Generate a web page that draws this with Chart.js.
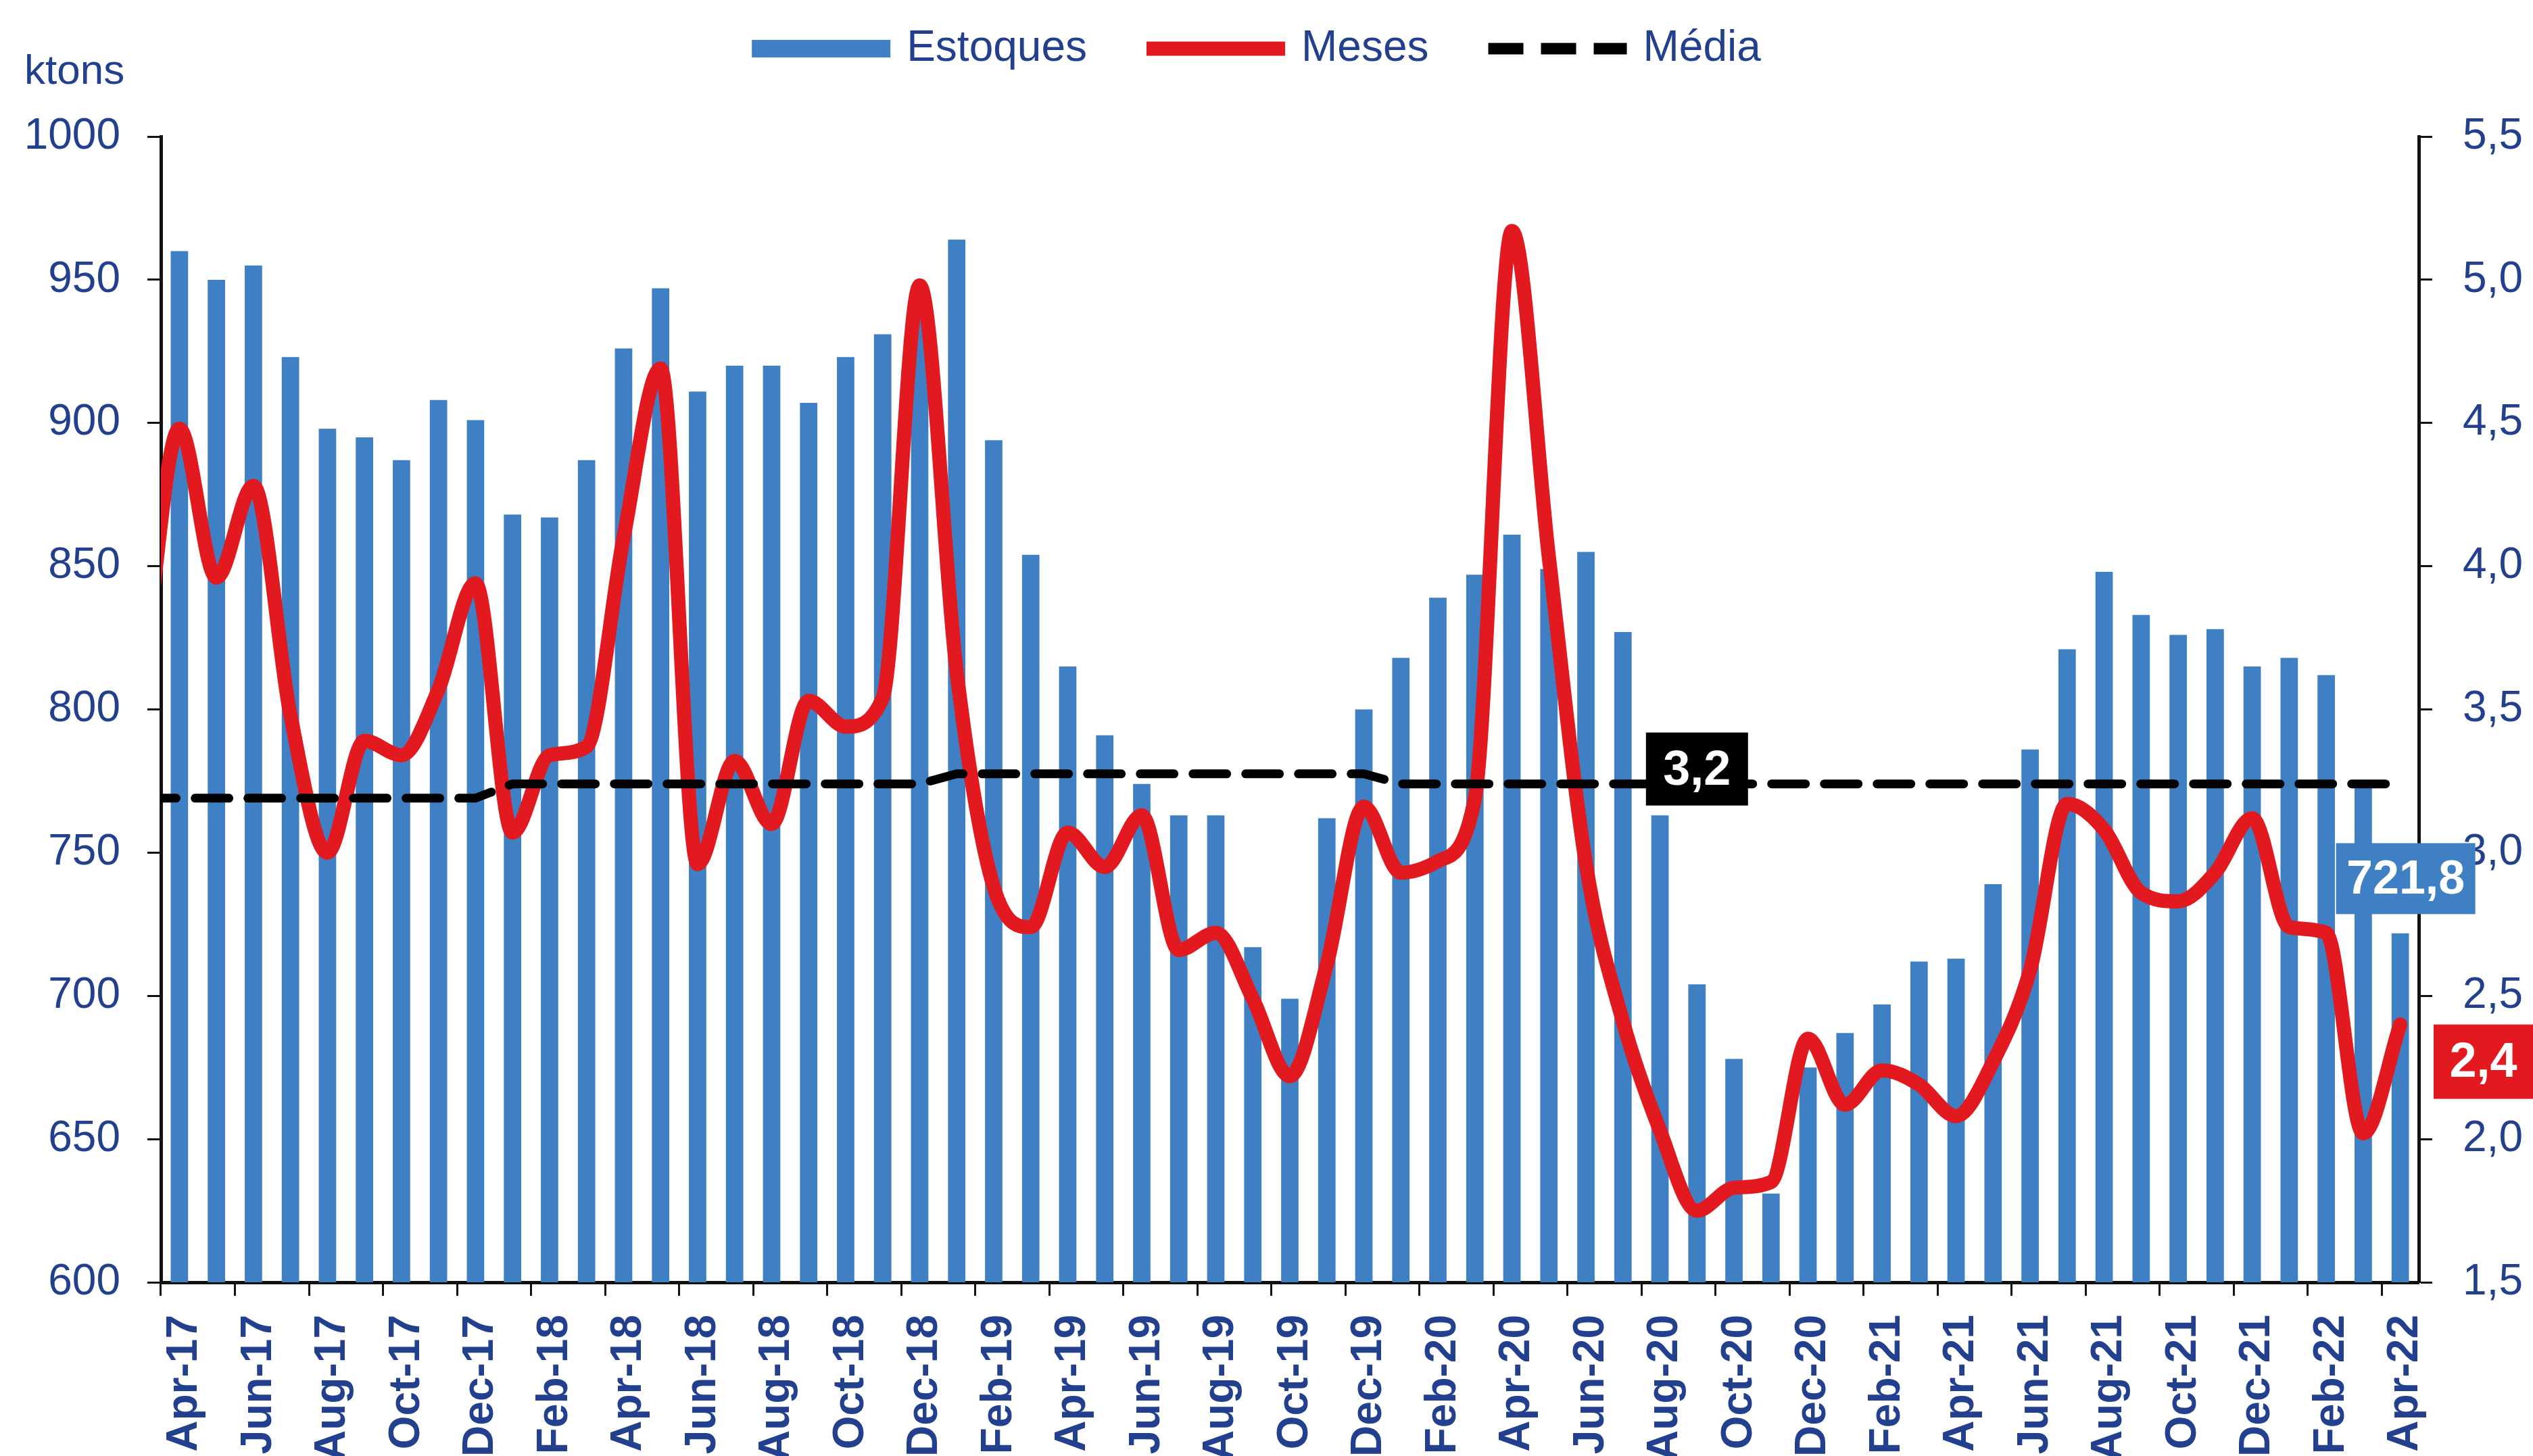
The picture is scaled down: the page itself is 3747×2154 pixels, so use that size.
<!DOCTYPE html>
<html>
<head>
<meta charset="utf-8">
<script src="https://cdn.jsdelivr.net/npm/chart.js@4/dist/chart.umd.min.js"></script>
<style>
html,body{margin:0;padding:0;background:#ffffff;}
#wrap{width:3747px;height:2154px;position:relative;}
</style>
</head>
<body>
<div id="wrap"><canvas id="c" width="3747" height="2154"></canvas></div>
<script>
// ---------------- DATA ----------------
const months = [
  'Apr-17','May-17','Jun-17','Jul-17','Aug-17','Sep-17','Oct-17','Nov-17','Dec-17',
  'Jan-18','Feb-18','Mar-18','Apr-18','May-18','Jun-18','Jul-18','Aug-18','Sep-18','Oct-18','Nov-18','Dec-18',
  'Jan-19','Feb-19','Mar-19','Apr-19','May-19','Jun-19','Jul-19','Aug-19','Sep-19','Oct-19','Nov-19','Dec-19',
  'Jan-20','Feb-20','Mar-20','Apr-20','May-20','Jun-20','Jul-20','Aug-20','Sep-20','Oct-20','Nov-20','Dec-20',
  'Jan-21','Feb-21','Mar-21','Apr-21','May-21','Jun-21','Jul-21','Aug-21','Sep-21','Oct-21','Nov-21','Dec-21',
  'Jan-22','Feb-22','Mar-22','Apr-22'
];

// Estoques (ktons), left axis
const estoques = [
  960, 950, 955, 923, 898, 895, 887, 908, 901,
  868, 867, 887, 926, 947, 911, 920, 920, 907, 923, 931, 942,
  964, 894, 854, 815, 791, 774, 763, 763, 717, 699, 762, 800,
  818, 839, 847, 861, 849, 855, 827, 763, 704, 678, 631, 675,
  687, 697, 712, 713, 739, 786, 821, 848, 833, 826, 828, 815,
  818, 812, 775, 721.8
];

// Meses de estoque, right axis
const meses = [
  4.48, 3.96, 4.28, 3.48, 3.00, 3.39, 3.34, 3.57, 3.94,
  3.07, 3.34, 3.37, 4.10, 4.69, 2.96, 3.32, 3.10, 3.53, 3.44, 3.54, 4.98,
  3.63, 2.88, 2.74, 3.07, 2.95, 3.13, 2.66, 2.72, 2.49, 2.22, 2.61, 3.16,
  2.93, 2.97, 3.19, 5.17, 4.03, 2.96, 2.41, 2.03, 1.75, 1.83, 1.85, 2.35,
  2.12, 2.24, 2.19, 2.08, 2.27, 2.59, 3.17, 3.08, 2.86, 2.83, 2.93, 3.12,
  2.74, 2.72, 2.02, 2.40
];
// value of the month before the first one (Mar-17), only its tail is visible at the left edge
const mesesMar17 = 3.6;

// Média (right axis)
const media = [
  3.19, 3.19, 3.19, 3.19, 3.19, 3.19, 3.19, 3.19, 3.19,
  3.24, 3.24, 3.24, 3.24, 3.24, 3.24, 3.24, 3.24, 3.24, 3.24, 3.24, 3.24,
  3.275, 3.275, 3.275, 3.275, 3.275, 3.275, 3.275, 3.275, 3.275, 3.275, 3.275, 3.275,
  3.24, 3.24, 3.24, 3.24, 3.24, 3.24, 3.24, 3.24, 3.24, 3.24, 3.24, 3.24,
  3.24, 3.24, 3.24, 3.24, 3.24, 3.24, 3.24, 3.24, 3.24, 3.24, 3.24, 3.24,
  3.24, 3.24, 3.24, 3.24
];
const mediaLabelIndex = 41; // where the "3,2" tag sits

const leftTicks  = [600, 650, 700, 750, 800, 850, 900, 950, 1000];
const rightTicks = [1.5, 2.0, 2.5, 3.0, 3.5, 4.0, 4.5, 5.0, 5.5];

// ---------------- STYLE ----------------
const FONT = "'Liberation Sans', Arial, Helvetica, sans-serif";
const TEXT = '#23408e';
const BLUE = '#3f80c4';
const RED = '#e2191f';
const BLACK = '#000000';

const fmt = v => v.toFixed(1).replace('.', ',');

const mesesPoints = [{x: -1, y: mesesMar17}].concat(meses.map((v, i) => ({x: i, y: v})));
const mediaPoints = [{x: -1, y: media[0]}].concat(media.map((v, i) => ({x: i, y: v})));

const decoPlugin = {
  id: 'deco',
  afterDraw(chart) {
    const ctx = chart.ctx;
    const area = chart.chartArea;
    const xl = chart.scales.xl, y = chart.scales.y, y1 = chart.scales.y1;
    ctx.save();

    // unit label
    ctx.fillStyle = TEXT;
    ctx.font = '62px ' + FONT;
    ctx.textAlign = 'left';
    ctx.textBaseline = 'alphabetic';
    ctx.fillText('ktons', 36, 124);

    // legend
    const ds = chart.data.datasets;
    ctx.font = '64px ' + FONT;
    const markW = 205, gap = 24, itemGap = 88;
    let total = 0;
    ds.forEach((d, i) => { total += markW + gap + ctx.measureText(d.label).width + (i < ds.length - 1 ? itemGap : 0); });
    let lx = chart.width / 2 - total / 2 - 15;
    const ly = 72;
    ds.forEach((d, i) => {
      if (d.type === 'line') {
        ctx.beginPath();
        ctx.strokeStyle = d.borderColor;
        ctx.lineWidth = d.borderDash ? 17 : 21;
        ctx.setLineDash(d.borderDash ? [52, 26] : []);
        ctx.lineCap = 'butt';
        ctx.moveTo(lx, ly);
        ctx.lineTo(lx + markW, ly);
        ctx.stroke();
        ctx.setLineDash([]);
      } else {
        ctx.fillStyle = d.backgroundColor;
        ctx.fillRect(lx, ly - 13, markW, 26);
      }
      lx += markW + gap;
      ctx.fillStyle = TEXT;
      ctx.font = '64px ' + FONT;
      ctx.textAlign = 'left';
      ctx.textBaseline = 'alphabetic';
      ctx.fillText(d.label, lx, 90);
      lx += ctx.measureText(d.label).width + itemGap;
    });

    // tag helper
    function tag(cx, cy, w, h, bg, txt, size) {
      ctx.fillStyle = bg;
      ctx.fillRect(cx - w / 2, cy - h / 2, w, h);
      ctx.fillStyle = '#ffffff';
      ctx.font = 'bold ' + size + 'px ' + FONT;
      ctx.textAlign = 'center';
      ctx.textBaseline = 'middle';
      ctx.fillText(txt, cx, cy + 3);
    }
    // Média tag
    const mi = mediaLabelIndex;
    tag(xl.getPixelForValue(mi), y1.getPixelForValue(media[mi]) - 22, 151, 108, BLACK, fmt(media[mi]), 72);
    // last stock tag
    const last = estoques.length - 1;
    tag(xl.getPixelForValue(last) + 8, y.getPixelForValue(estoques[last]) - 81, 206, 105, BLUE, fmt(estoques[last]), 70);
    // last months tag
    const top = y1.getPixelForValue(meses[last]);
    const bx = area.right + 22;
    const bw = chart.width - bx;
    tag(bx + bw / 2, top + 55, bw, 110, RED, fmt(meses[last]), 72);

    ctx.restore();
  }
};

const ctx = document.getElementById('c').getContext('2d');
new Chart(ctx, {
  type: 'bar',
  data: {
    labels: months,
    datasets: [
      {
        type: 'bar',
        label: 'Estoques',
        data: estoques,
        xAxisID: 'x',
        yAxisID: 'y',
        backgroundColor: BLUE,
        borderWidth: 0,
        grouped: false,
        barPercentage: 0.47,
        categoryPercentage: 1.0,
        order: 2
      },
      {
        type: 'line',
        label: 'Meses',
        data: mesesPoints,
        xAxisID: 'xl',
        yAxisID: 'y1',
        borderColor: RED,
        borderWidth: 21,
        borderCapStyle: 'round',
        borderJoinStyle: 'round',
        pointRadius: 0,
        cubicInterpolationMode: 'monotone',
        clip: 0,
        order: 1
      },
      {
        type: 'line',
        label: 'Média',
        data: mediaPoints,
        xAxisID: 'xl',
        yAxisID: 'y1',
        borderColor: BLACK,
        borderWidth: 13,
        borderDash: [50, 28],
        borderCapStyle: 'round',
        pointRadius: 0,
        tension: 0,
        clip: 0,
        order: 0
      }
    ]
  },
  options: {
    responsive: false,
    animation: false,
    devicePixelRatio: 1,
    layout: { padding: { top: 202, left: 0, right: 0, bottom: 0 } },
    plugins: {
      legend: { display: false },
      tooltip: { enabled: false },
      title: { display: false }
    },
    scales: {
      x: {
        type: 'category',
        offset: true,
        grid: {
          offset: true,
          drawOnChartArea: false,
          drawTicks: true,
          tickLength: 20,
          tickWidth: 3,
          tickColor: c => (c.index !== undefined && c.index % 2 === 0) ? '#111111' : 'rgba(0,0,0,0)'
        },
        border: { display: true, color: '#111111', width: 5 },
        ticks: {
          autoSkip: false,
          maxRotation: 90,
          minRotation: 90,
          padding: 28,
          labelOffset: 8,
          color: TEXT,
          font: { family: FONT, size: 64, weight: 'bold' },
          callback: (v, i) => (i % 2 === 0 ? months[i] : '')
        },
        afterFit: s => { s.height = 257; }
      },
      xl: {
        type: 'linear',
        axis: 'x',
        offset: false,
        grid: { offset: false },
        min: -0.5,
        max: months.length - 0.5,
        display: false
      },
      y: {
        type: 'linear',
        position: 'left',
        min: leftTicks[0],
        max: leftTicks[leftTicks.length - 1],
        afterBuildTicks: s => { s.ticks = leftTicks.map(v => ({ value: v })); },
        grid: { drawOnChartArea: false, drawTicks: true, tickLength: 20, tickWidth: 3, tickColor: '#111111' },
        border: { display: true, color: '#111111', width: 5 },
        ticks: {
          padding: 40,
          color: TEXT,
          font: { family: FONT, size: 64 },
          callback: v => String(v)
        },
        afterFit: s => { s.width = 238; }
      },
      y1: {
        type: 'linear',
        position: 'right',
        min: rightTicks[0],
        max: rightTicks[rightTicks.length - 1],
        afterBuildTicks: s => { s.ticks = rightTicks.map(v => ({ value: v })); },
        grid: { drawOnChartArea: false, drawTicks: true, tickLength: 20, tickWidth: 3, tickColor: '#111111' },
        border: { display: true, color: '#111111', width: 5 },
        ticks: {
          padding: 45,
          color: TEXT,
          font: { family: FONT, size: 64 },
          callback: v => fmt(v)
        },
        afterFit: s => { s.width = 169; }
      }
    }
  },
  plugins: [decoPlugin]
});
</script>
</body>
</html>
